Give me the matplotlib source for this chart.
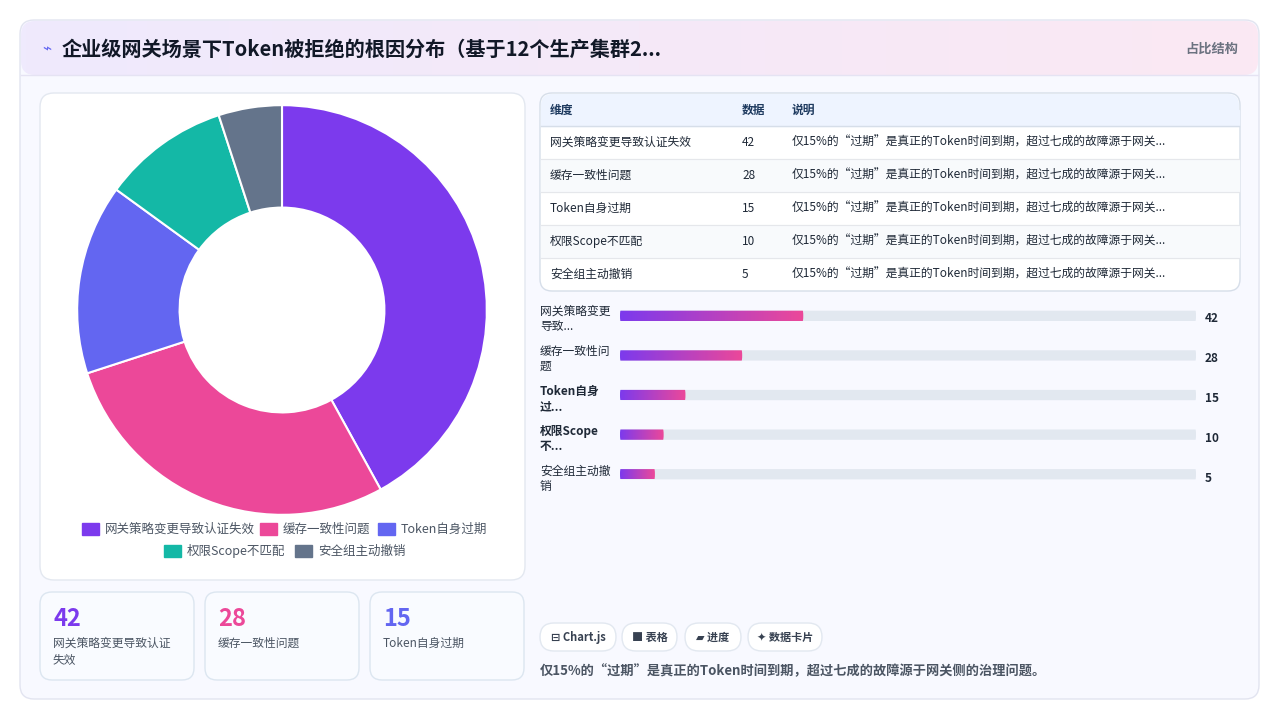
import matplotlib
matplotlib.use("Agg")
import matplotlib.pyplot as plt
from matplotlib.patches import FancyBboxPatch
from matplotlib.colors import LinearSegmentedColormap
import numpy as np

plt.rcParams['font.family'] = ['Noto Sans CJK SC', 'DejaVu Sans']

categories = ["网关策略变更导致认证失效", "缓存一致性问题", "Token自身过期", "权限Scope不匹配", "安全组主动撤销"]
values = [42, 28, 15, 10, 5]
bar_labels = ["网关策略变更\n导致...", "缓存一致性问\n题", "Token自身\n过...", "权限Scope\n不...", "安全组主动撤\n销"]
colors = ["#7c3aed", "#ec4899", "#6366f1", "#14b8a6", "#64748b"]
note = "仅15%的“过期”是真正的Token时间到期，超过七成的故障源于网关..."
footer = "仅15%的“过期”是真正的Token时间到期，超过七成的故障源于网关侧的治理问题。"
title = "企业级网关场景下Token被拒绝的根因分布（基于12个生产集群2..."

W, H = 1280, 721
fig = plt.figure(figsize=(12.8, 7.21), dpi=100)
fig.patch.set_facecolor("white")
bg = fig.add_axes([0, 0, 1, 1])
bg.set_xlim(0, W); bg.set_ylim(H, 0); bg.axis("off")

def rbox(x, y, w, h, r, fc, ec="none", lw=1, z=1, ax=bg):
    p = FancyBboxPatch((x, y), w, h, boxstyle=f"round,pad=0,rounding_size={r}",
                       fc=fc, ec=ec, lw=lw, zorder=z)
    ax.add_patch(p)
    return p

# card
rbox(20, 20, 1239, 679, 14, "#f8f9ff", "#e2e4f0", 1, z=0)
grad = np.linspace(0, 1, 256).reshape(1, -1)
cm = LinearSegmentedColormap.from_list("h", ["#efeafd", "#fbe8f3"])
hp = rbox(21, 21, 1237, 54, 14, "none")
im = bg.imshow(grad, cmap=cm, extent=(21, 1258, 75, 21), aspect="auto", zorder=1)
im.set_clip_path(hp)
bg.plot([21, 1258], [75, 75], color="#e5e3f3", lw=1, zorder=2)
bg.text(42, 49, "⌁", fontsize=11, color="#6366f1", va="center", ha="left", family=["DejaVu Sans"])
bg.text(62, 49, title, fontsize=14.5, fontweight="bold", color="#111827", va="center", ha="left")
bg.text(1238, 49, "占比结构", fontsize=9.5, color="#6b7280", va="center", ha="right", fontweight="bold")

# donut panel
rbox(40, 93, 485, 487, 14, "white", "#e3e8f0", 1, z=1)
cx, cy, R = 282, 310, 212
dax = fig.add_axes([(cx - R) / W, 1 - (cy + R) / H, 2 * R / W, 2 * R / H])
dax.pie(values, colors=colors, startangle=90, counterclock=False, radius=1,
        wedgeprops=dict(width=0.5, edgecolor="white", linewidth=1.5))
dax.set_xlim(-1.035, 1.035); dax.set_ylim(-1.035, 1.035); dax.set_aspect("equal")

# legend
leg_rows = [[0, 1, 2], [3, 4]]
row_x = [[82, 260, 378], [164, 295]]
for r, (row, xs) in enumerate(zip(leg_rows, row_x)):
    y = 529 + r * 22
    for i, x in zip(row, xs):
        bg.add_patch(plt.Rectangle((x, y - 6), 17, 12, color=colors[i], zorder=3))
        bg.text(x + 23, y, categories[i], fontsize=9, color="#4b5563", va="center", ha="left", zorder=3)

# stat cards
for k in range(3):
    x = 40 + k * 165
    rbox(x, 592, 154, 88, 12, "#f9fbff", "#dce6f0", 1, z=1)
    bg.text(x + 13, 619, str(values[k]), fontsize=17, fontweight="bold", color=colors[k], va="center")
    lab = categories[k]
    if len(lab) > 10:
        lab = lab[:10] + "\n" + lab[10:]
    bg.text(x + 13, 637, lab, fontsize=8.5, color="#4b5563", va="top", linespacing=1.3)

# table
rbox(540, 93, 700, 198, 12, "white", "#d6dee9", 1, z=1)
rbox(541, 94, 698, 32, 11, "#eef4ff", z=1)
bg.add_patch(plt.Rectangle((541, 110), 698, 16, color="#eef4ff", zorder=1))
bg.plot([541, 1239], [126, 126], color="#d6dee9", lw=1, zorder=2)
for j, t in enumerate(["维度", "数据", "说明"]):
    bg.text([550, 742, 792][j], 110, t, fontsize=8.5, fontweight="bold", color="#1e3a5f", va="center")
for i in range(5):
    y0 = 126 + i * 33
    if i % 2 == 1:
        bg.add_patch(plt.Rectangle((541, y0), 698, 33, color="#f8fafc", zorder=1))
    if i > 0:
        bg.plot([541, 1239], [y0, y0], color="#e5e7eb", lw=0.8, zorder=2)
    yc = y0 + 16.5
    bg.text(550, yc, categories[i], fontsize=8.5, color="#1f2937", va="center", zorder=3, fontweight="medium")
    bg.text(742, yc, str(values[i]), fontsize=8.5, color="#1f2937", va="center", zorder=3, fontweight="medium")
    bg.text(792, yc, note, fontsize=8.5, color="#1f2937", va="center", zorder=3, fontweight="medium")

# progress bars
bax = fig.add_axes([620 / W, 1 - 498 / H, 576 / W, 198 / H])
bax.set_xlim(0, 132); bax.set_ylim(4.6, -0.4); bax.axis("off")
pg = LinearSegmentedColormap.from_list("p", ["#7c3aed", "#ec4899"])
for i, v in enumerate(values):
    y = i * 1.0
    rbox(0, y - 0.13, 132, 0.26, 0.13, "#e2e8f0", z=1, ax=bax)
    vv = max(v, 8)
    clip = FancyBboxPatch((0, y - 0.13), vv, 0.26, boxstyle="round,pad=0,rounding_size=0.13",
                          fc="none", ec="none", transform=bax.transData)
    bax.add_patch(clip)
    gi = bax.imshow(grad, cmap=pg, extent=(0, vv, y + 0.13, y - 0.13), aspect="auto", zorder=2)
    gi.set_clip_path(clip)
    bax.set_xlim(0, 132); bax.set_ylim(4.6, -0.4)
    bg.text(540, 319 + i * 40, bar_labels[i], fontsize=8.5, color="#1f2937", va="center", ha="left",
            linespacing=1.25, fontweight="bold" if i in (2, 3) else "normal")
    bg.text(1205, 319 + i * 40, str(v), fontsize=8.5, fontweight="bold", color="#1f2937", va="center")

# chips
chips = [("⊟ Chart.js", 540, 76), ("■ 表格", 622, 55), ("▰ 进度", 685, 56), ("✦ 数据卡片", 748, 74)]
for t, x, w in chips:
    rbox(x, 623, w, 28, 14, "white", "#e2e8f0", 1, z=1)
    bg.text(x + w / 2, 637, t, fontsize=8, fontweight="bold", color="#374151", va="center", ha="center", zorder=3)
bg.text(540, 671, footer, fontsize=9.5, color="#4b5563", va="center", ha="left", fontweight="bold")

fig.savefig("out.png", dpi=100, facecolor="white")
